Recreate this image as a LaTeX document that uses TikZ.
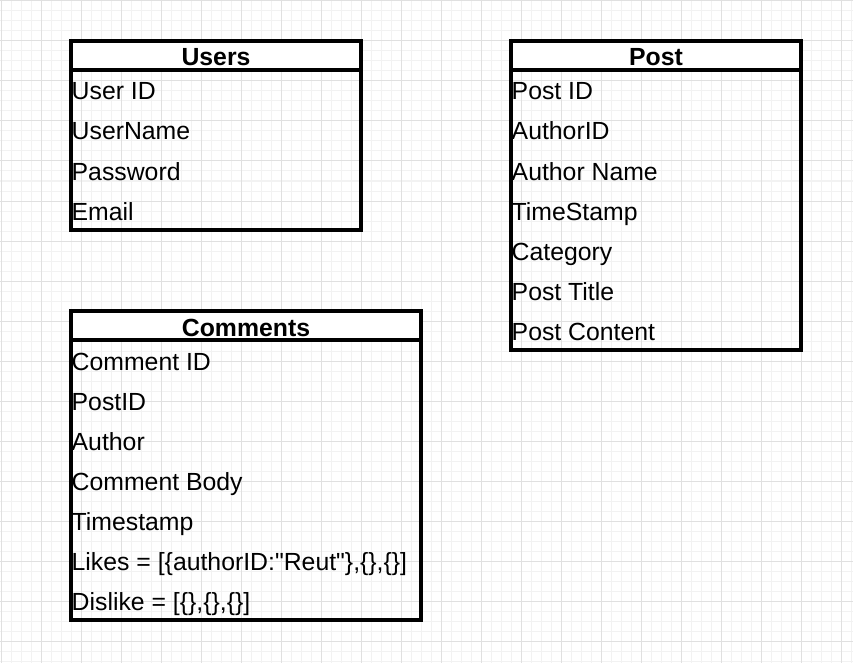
\documentclass[tikz,border=0pt]{standalone}
\usepackage{fontspec}
\setmainfont{Liberation Sans}[Ligatures=TeXOff]
\begin{document}
\begin{tikzpicture}[x=1pt,y=-1pt,
  minorgrid/.style={draw=black!5, line width=1pt},
  majorgrid/.style={draw=black!12, line width=1pt},
  hdrbox/.style={draw=black, line width=4.8pt, fill=white, rectangle, inner sep=0pt, outer sep=0pt, anchor=north west, minimum height=29pt},
  bodybox/.style={draw=black, line width=4.8pt, rectangle, inner sep=0pt, outer sep=0pt, anchor=north west},
  title/.style={anchor=base, inner sep=0pt, font=\bfseries\fontsize{24.8}{28}\selectfont},
  field/.style={anchor=base west, inner sep=0pt, font=\fontsize{24.8}{28}\selectfont}]
\useasboundingbox (0,0) rectangle (853,663);
\fill[white] (0,0) rectangle (853,663);
% grid
\foreach \i in {0,...,85} \draw[minorgrid] ({10*\i+1},0) -- ({10*\i+1},663);
\foreach \j in {0,...,66} \draw[minorgrid] (0,{10*\j+1}) -- (853,{10*\j+1});
\foreach \i in {0,...,21} \draw[majorgrid] ({40*\i+1},0) -- ({40*\i+1},663);
\foreach \j in {0,...,16} \draw[majorgrid] (0,{40*\j+1}) -- (853,{40*\j+1});
% Users
\node[bodybox, minimum width=290pt, minimum height=189pt] (usersb) at (71,41) {};
\node[hdrbox, minimum width=290pt] (usersh) at (71,41) {};
\node[title] (userst) at (216,66) {Users};
\node[field] (u1) at (71.5,100) {User ID};
\node[field] (u2) at (71.5,140) {UserName};
\node[field] (u3) at (71.5,180) {Password};
\node[field] (u4) at (71.5,220) {Email};
% Post
\node[bodybox, minimum width=290pt, minimum height=309pt] (postb) at (511,41) {};
\node[hdrbox, minimum width=290pt] (posth) at (511,41) {};
\node[title] (postt) at (656,66) {Post};
\node[field] (p1) at (511.5,100) {Post ID};
\node[field] (p2) at (511.5,140) {AuthorID};
\node[field] (p3) at (511.5,180) {Author Name};
\node[field] (p4) at (511.5,220) {TimeStamp};
\node[field] (p5) at (511.5,260) {Category};
\node[field] (p6) at (511.5,300) {Post Title};
\node[field] (p7) at (511.5,340) {Post Content};
% Comments
\node[bodybox, minimum width=350pt, minimum height=309pt] (commb) at (71,311) {};
\node[hdrbox, minimum width=350pt] (commh) at (71,311) {};
\node[title] (commt) at (246,336) {Comments};
\node[field] (c1) at (71.5,370) {Comment ID};
\node[field] (c2) at (71.5,410) {PostID};
\node[field] (c3) at (71.5,450) {Author};
\node[field] (c4) at (71.5,490) {Comment Body};
\node[field] (c5) at (71.5,530) {Timestamp};
\node[field] (c6) at (71.5,570) {Likes = [\{authorID:"Reut"\},\{\},\{\}]};
\node[field] (c7) at (71.5,610) {Dislike = [\{\},\{\},\{\}]};
\end{tikzpicture}
\end{document}
